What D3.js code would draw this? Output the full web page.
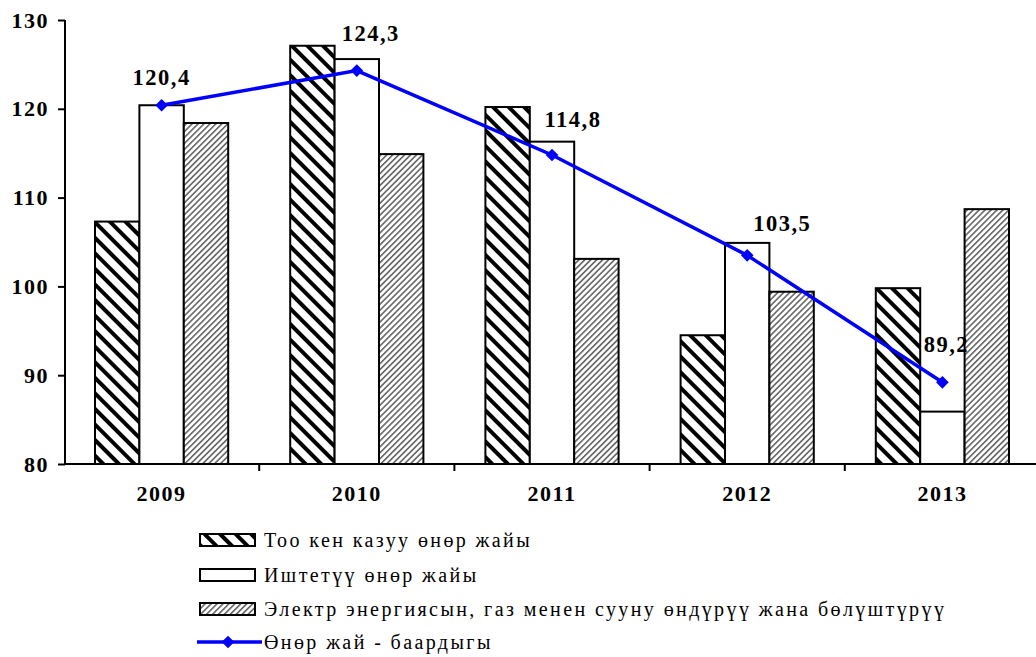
<!DOCTYPE html>
<meta charset="utf-8">
<style>
body { margin: 0; background: #fff; }
svg text { font-family: "Liberation Serif", "Times New Roman", serif; fill: #000; }
.tick-label { font-weight: bold; font-size: 22px; letter-spacing: 1.5px; }
.val-label { font-weight: bold; font-size: 22.5px; letter-spacing: 1.5px; }
.legend text { font-size: 20px; letter-spacing: 2.4px; }
.bar { stroke: #000; stroke-width: 2px; }
</style>
<body>
<script src="https://d3js.org/d3.v7.min.js"></script>
<script>

var years = ["2009", "2010", "2011", "2012", "2013"];
var seriesNames = [
  "Тоо кен казуу өнөр жайы",
  "Иштетүү өнөр жайы",
  "Электр энергиясын, газ менен сууну өндүрүү жана бөлүштүрүү"
];
var mining = [107.3, 127.1, 120.2, 94.5, 99.8];
var manufacturing = [120.4, 125.6, 116.3, 104.9, 85.9];
var electricity = [118.4, 114.9, 103.1, 99.4, 108.7];
var lineName = "Өнөр жай - баардыгы";
var total = [120.4, 124.3, 114.8, 103.5, 89.2];
var totalLabels = ["120,4", "124,3", "114,8", "103,5", "89,2"];
var yTicks = [80, 90, 100, 110, 120, 130];

// hand-placed label offsets (as in the original)
var labelOffsets = [[0, -20], [14, -30], [21, -28], [35, -24], [4, -30]];

var width = 1036,
    height = 657;

var svg = d3.select("body").append("svg")
    .attr("width", width)
    .attr("height", height);

var defs = svg.append("defs");

var p1 = defs.append("pattern")
    .attr("id", "hatchWide")
    .attr("patternUnits", "userSpaceOnUse")
    .attr("width", 11).attr("height", 11)
    .attr("patternTransform", "rotate(45)");
p1.append("rect").attr("width", 11).attr("height", 11).attr("fill", "#fff");
p1.append("rect").attr("width", 11).attr("height", 4).attr("fill", "#000");

var p2 = defs.append("pattern")
    .attr("id", "hatchFine")
    .attr("patternUnits", "userSpaceOnUse")
    .attr("width", 4.2).attr("height", 4.2)
    .attr("patternTransform", "rotate(-45)");
p2.append("rect").attr("width", 4.2).attr("height", 4.2).attr("fill", "#fff");
p2.append("rect").attr("width", 4.2).attr("height", 1.6).attr("fill", "#666");

var fills = ["url(#hatchWide)", "#fff", "url(#hatchFine)"];

var x0 = d3.scaleBand()
    .domain(years)
    .range([64, 1040]);

var x1 = d3.scaleBand()
    .domain([0, 1, 2])
    .range([31, x0.bandwidth() - 31]);

var y = d3.scaleLinear()
    .domain([80, 130])
    .range([464, 20]);

var series = [mining, manufacturing, electricity];

// bars
series.forEach(function(vals, si) {
  svg.append("g").selectAll("rect")
    .data(vals).enter()
    .append("rect")
    .attr("class", "bar")
    .attr("x", function(d, i) { return x0(years[i]) + x1(si); })
    .attr("width", x1.bandwidth())
    .attr("y", function(d) { return y(d); })
    .attr("height", function(d) { return y(80) - y(d); })
    .attr("fill", fills[si]);
});

// y axis
var yAxis = svg.append("g")
    .attr("transform", "translate(65,0)")
    .call(d3.axisLeft(y).tickValues(yTicks).tickSize(7).tickPadding(9));
yAxis.attr("font-family", null).attr("font-size", null);
yAxis.select(".domain").attr("stroke", "#000").attr("stroke-width", 2)
    .attr("d", "M0," + y(130) + "V" + y(80));
yAxis.selectAll(".tick line").attr("stroke-width", 2);
yAxis.selectAll("text").attr("class", "tick-label");

// x axis
var xAxis = svg.append("g")
    .attr("transform", "translate(0," + y(80) + ")");
xAxis.append("line")
    .attr("x1", 65).attr("x2", width)
    .attr("stroke", "#000").attr("stroke-width", 2);
xAxis.selectAll(".xtick")
    .data(years.slice(1)).enter()
    .append("line")
    .attr("x1", function(d) { return x0(d); })
    .attr("x2", function(d) { return x0(d); })
    .attr("y1", 0).attr("y2", 7)
    .attr("stroke", "#000").attr("stroke-width", 2);
xAxis.selectAll("text")
    .data(years).enter()
    .append("text")
    .attr("class", "tick-label")
    .attr("x", function(d) { return x0(d) + x0.bandwidth() / 2; })
    .attr("y", 37)
    .attr("text-anchor", "middle")
    .text(function(d) { return d; });

// total line
var cx = function(d, i) { return x0(years[i]) + x0.bandwidth() / 2; };

svg.append("path")
    .datum(total)
    .attr("fill", "none")
    .attr("stroke", "#0000ff")
    .attr("stroke-width", 3.5)
    .attr("d", d3.line().x(cx).y(function(d) { return y(d); }));

// diamond = square turned 45 degrees
var diamond = d3.symbol().type(d3.symbolSquare).size(80);

svg.selectAll(".pt")
    .data(total).enter()
    .append("path")
    .attr("d", diamond)
    .attr("fill", "#0000ff")
    .attr("transform", function(d, i) {
      return "translate(" + cx(d, i) + "," + y(d) + ") rotate(45)";
    });

svg.selectAll(".val")
    .data(total).enter()
    .append("text")
    .attr("class", "val-label")
    .attr("text-anchor", "middle")
    .attr("x", function(d, i) { return cx(d, i) + labelOffsets[i][0]; })
    .attr("y", function(d, i) { return y(d) + labelOffsets[i][1]; })
    .text(function(d, i) { return totalLabels[i]; });

// legend
var legend = svg.append("g").attr("class", "legend");
var rowY = [540, 575, 609, 642];

seriesNames.forEach(function(name, i) {
  legend.append("rect")
    .attr("x", 200).attr("y", rowY[i] - 6)
    .attr("width", 55).attr("height", 12)
    .attr("fill", fills[i])
    .attr("stroke", "#000").attr("stroke-width", 2);
  legend.append("text")
    .attr("x", 264).attr("y", rowY[i] + 7)
    .text(name);
});

legend.append("line")
  .attr("x1", 197).attr("x2", 262)
  .attr("y1", rowY[3]).attr("y2", rowY[3])
  .attr("stroke", "#0000ff").attr("stroke-width", 3.5);
legend.append("path")
  .attr("d", diamond)
  .attr("fill", "#0000ff")
  .attr("transform", "translate(228," + rowY[3] + ") rotate(45)");
legend.append("text")
  .attr("x", 264).attr("y", rowY[3] + 7)
  .text(lineName);

</script>
</body>
